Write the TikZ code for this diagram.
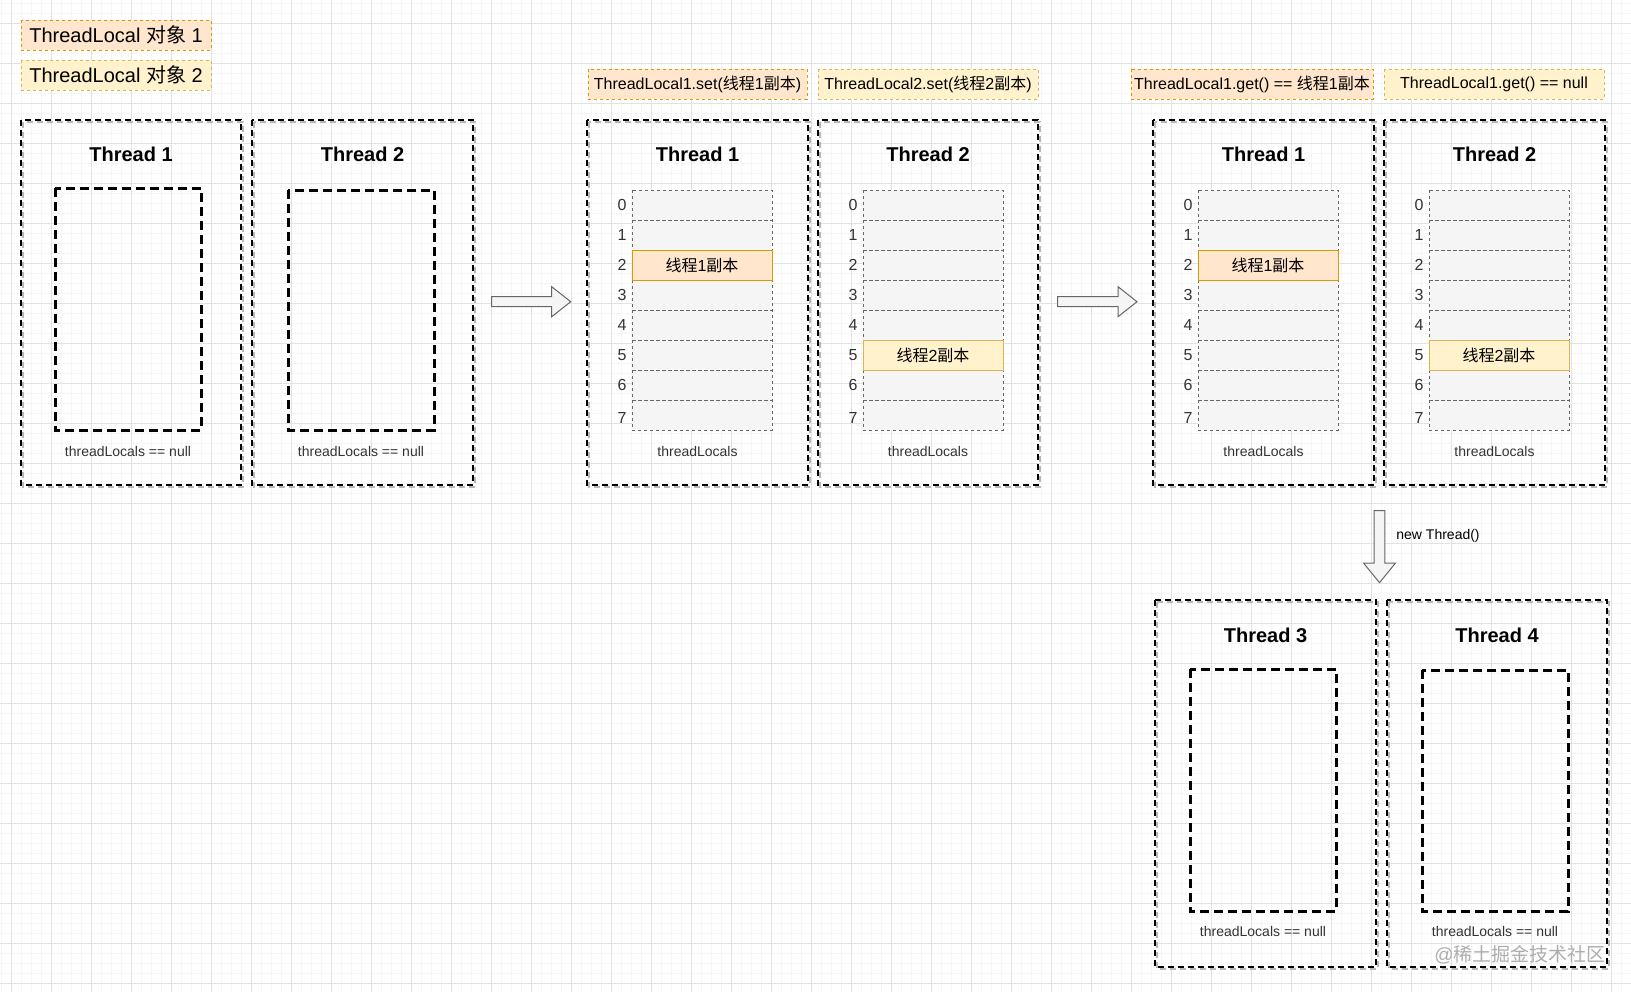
\documentclass[tikz,border=0pt]{standalone}
\usepackage{fontspec}
\setmainfont{Liberation Sans}
\newfontfamily\cjkfont{Noto Sans CJK SC}
\newcommand{\zh}[1]{{\cjkfont #1}}

\definecolor{orfill}{HTML}{FFE6CC}
\definecolor{ordraw}{HTML}{D79B00}
\definecolor{yefill}{HTML}{FFF2CC}
\definecolor{yedraw}{HTML}{D6B656}
\definecolor{cellfill}{HTML}{F5F5F5}
\definecolor{celldraw}{HTML}{666666}
\definecolor{txtgray}{HTML}{333333}
\definecolor{gridmajor}{HTML}{E2E2E2}
\definecolor{gridminor}{HTML}{F5F5F5}

\tikzset{
  thread/.style={line width=1pt, dash pattern=on 3pt off 2pt,
    preaction={draw=black!28, line width=1pt, dash pattern=on 3pt off 2pt,
      transform canvas={shift={(1pt,-1.2pt)}}}},
  slot/.style={line width=1.5pt, dash pattern=on 4.5pt off 2.5pt},
  lbl1/.style={fill=orfill, draw=ordraw, line width=0.5pt, dash pattern=on 1.5pt off 1.5pt},
  lbl2/.style={fill=yefill, draw=yedraw, line width=0.5pt, dash pattern=on 1.5pt off 1.5pt},
  cell/.style={fill=cellfill, draw=celldraw, line width=0.5pt, dash pattern=on 1.5pt off 1.5pt},
  cell1/.style={fill=orfill, draw=ordraw, line width=0.5pt},
  cell2/.style={fill=yefill, draw=yedraw, line width=0.5pt},
  title/.style={font=\bfseries\fontsize{10pt}{12pt}\selectfont, inner sep=0pt},
  bigtext/.style={font=\fontsize{10pt}{12pt}\selectfont, inner sep=0pt},
  lbltext/.style={font=\fontsize{8pt}{10pt}\selectfont, inner sep=0pt},
  idx/.style={font=\fontsize{8pt}{9.5pt}\selectfont, text=txtgray, inner sep=0pt},
  small/.style={font=\fontsize{7pt}{8.5pt}\selectfont, text=txtgray, inner sep=0pt},
  blockarrow/.style={fill=cellfill, draw=celldraw, line width=0.5pt, line join=miter},
  wmtext/.style={font=\fontsize{9.5pt}{11pt}\selectfont, text=black!32, inner sep=0pt}
}

\begin{document}
\begin{tikzpicture}[x=0.5pt,y=-0.5pt]
\useasboundingbox (0,0) rectangle (1631,992);
\fill[white] (0,0) rectangle (1631,992);
\foreach \gx in {1.7,11.7,...,1631} \draw[gridminor, line width=0.5pt] (\gx,0) -- (\gx,992);
\foreach \gy in {3.3,13.3,...,992} \draw[gridminor, line width=0.5pt] (0,\gy) -- (1631,\gy);
\foreach \gx in {11.7,51.7,...,1631} \draw[gridmajor, line width=0.5pt] (\gx,0) -- (\gx,992);
\foreach \gy in {23.3,63.3,...,992} \draw[gridmajor, line width=0.5pt] (0,\gy) -- (1631,\gy);

\draw[lbl1] (21,20) rectangle (211,50);
\draw[lbl2] (21,60) rectangle (211,90);
\node[bigtext] (tl1) at (116,35) {ThreadLocal \zh{对象} 1};
\node[bigtext] (tl2) at (116,75) {ThreadLocal \zh{对象} 2};

\draw[lbl1] (588,69) rectangle (807,99);
\draw[lbl2] (818,69) rectangle (1038,99);
\draw[lbl1] (1131,69) rectangle (1373,99);
\draw[lbl2] (1384,69) rectangle (1604,99);
\node[lbltext] (set1) at (697.5,84) {ThreadLocal1.set(\zh{线程}1\zh{副本})};
\node[lbltext] (set2) at (928,84) {ThreadLocal2.set(\zh{线程}2\zh{副本})};
\node[lbltext] (get1) at (1252,84) {ThreadLocal1.get() == \zh{线程}1\zh{副本}};
\node[lbltext] (get2) at (1494,84) {ThreadLocal1.get() == null};

\draw[thread] (21,120) rectangle (241,485);
\draw[thread] (252,120) rectangle (473,485);
\draw[thread] (587,120) rectangle (808,485);
\draw[thread] (818,120) rectangle (1038,485);
\draw[thread] (1153,120) rectangle (1374,485);
\draw[thread] (1384,120) rectangle (1605,485);
\draw[thread] (1155,600) rectangle (1376,967);
\draw[thread] (1387,600) rectangle (1607,967);

\node[title] (a1) at (131,154) {Thread 1};
\node[title] (a2) at (362.5,154) {Thread 2};
\node[title] (b1) at (697.5,154) {Thread 1};
\node[title] (b2) at (928,154) {Thread 2};
\node[title] (c1) at (1263.5,154) {Thread 1};
\node[title] (c2) at (1494.5,154) {Thread 2};
\node[title] (d3) at (1265.5,635) {Thread 3};
\node[title] (d4) at (1497,635) {Thread 4};

\draw[slot] (55,188) rectangle (201,430);
\draw[slot] (288,190) rectangle (434,430);
\draw[slot] (1190,669) rectangle (1336,911);
\draw[slot] (1422,670) rectangle (1568,911);

\draw[cell] (632,190) rectangle (772,220) (632,220) rectangle (772,250) (632,280) rectangle (772,310) (632,310) rectangle (772,340)
  (632,340) rectangle (772,370) (632,370) rectangle (772,400) (632,400) rectangle (772,430);
\draw[cell] (863,190) rectangle (1003,220) (863,220) rectangle (1003,250) (863,250) rectangle (1003,280) (863,280) rectangle (1003,310)
  (863,310) rectangle (1003,340) (863,370) rectangle (1003,400) (863,400) rectangle (1003,430);
\draw[cell] (1198,190) rectangle (1338,220) (1198,220) rectangle (1338,250) (1198,280) rectangle (1338,310) (1198,310) rectangle (1338,340)
  (1198,340) rectangle (1338,370) (1198,370) rectangle (1338,400) (1198,400) rectangle (1338,430);
\draw[cell] (1429,190) rectangle (1569,220) (1429,220) rectangle (1569,250) (1429,250) rectangle (1569,280) (1429,280) rectangle (1569,310)
  (1429,310) rectangle (1569,340) (1429,370) rectangle (1569,400) (1429,400) rectangle (1569,430);
\draw[cell1] (632,250) rectangle (772,280);
\draw[cell2] (863,340) rectangle (1003,370);
\draw[cell1] (1198,250) rectangle (1338,280);
\draw[cell2] (1429,340) rectangle (1569,370);
\node[lbltext] (b1v) at (702,265) {\zh{线程}1\zh{副本}};
\node[lbltext] (b2v) at (933,355) {\zh{线程}2\zh{副本}};
\node[lbltext] (c1v) at (1268,265) {\zh{线程}1\zh{副本}};
\node[lbltext] (c2v) at (1499,355) {\zh{线程}2\zh{副本}};

\path[idx]
(622,205) node (b1i0) {0} (622,235) node (b1i1) {1} (622,265) node (b1i2) {2} (622,295) node (b1i3) {3}
(622,325) node (b1i4) {4} (622,355) node (b1i5) {5} (622,385) node (b1i6) {6} (622,418) node (b1i7) {7};
\path[idx]
(853,205) node (b2i0) {0} (853,235) node (b2i1) {1} (853,265) node (b2i2) {2} (853,295) node (b2i3) {3}
(853,325) node (b2i4) {4} (853,355) node (b2i5) {5} (853,385) node (b2i6) {6} (853,418) node (b2i7) {7};
\path[idx]
(1188,205) node (c1i0) {0} (1188,235) node (c1i1) {1} (1188,265) node (c1i2) {2} (1188,295) node (c1i3) {3}
(1188,325) node (c1i4) {4} (1188,355) node (c1i5) {5} (1188,385) node (c1i6) {6} (1188,418) node (c1i7) {7};
\path[idx]
(1419,205) node (c2i0) {0} (1419,235) node (c2i1) {1} (1419,265) node (c2i2) {2} (1419,295) node (c2i3) {3}
(1419,325) node (c2i4) {4} (1419,355) node (c2i5) {5} (1419,385) node (c2i6) {6} (1419,418) node (c2i7) {7};

\node[small] (a1n) at (128,451) {threadLocals == null};
\node[small] (a2n) at (361,451) {threadLocals == null};
\node[small] (b1n) at (697.5,451) {threadLocals};
\node[small] (b2n) at (928,451) {threadLocals};
\node[small] (c1n) at (1263.5,451) {threadLocals};
\node[small] (c2n) at (1494.5,451) {threadLocals};
\node[small] (d3n) at (1263,931) {threadLocals == null};
\node[small] (d4n) at (1495,931) {threadLocals == null};

\draw[blockarrow] (491.7,296.7) -- (551.7,296.7) -- (551.7,286.7) -- (570.7,301.7) -- (551.7,316.7) -- (551.7,306.7) -- (491.7,306.7) -- cycle;
\draw[blockarrow] (1057.7,296.7) -- (1118,296.7) -- (1118,286.7) -- (1137,301.7) -- (1118,316.7) -- (1118,306.7) -- (1057.7,306.7) -- cycle;
\draw[blockarrow] (1374.2,510.7) -- (1384.8,510.7) -- (1384.8,563) -- (1395.5,563) -- (1379.5,582.7) -- (1363.5,563) -- (1374.2,563) -- cycle;
\node[small, text=black, anchor=west] (nt) at (1396,536) {new Thread()};

\node[wmtext, anchor=east] (wm) at (1606,955) {@\zh{稀土掘金技术社区}};
\end{tikzpicture}
\end{document}
